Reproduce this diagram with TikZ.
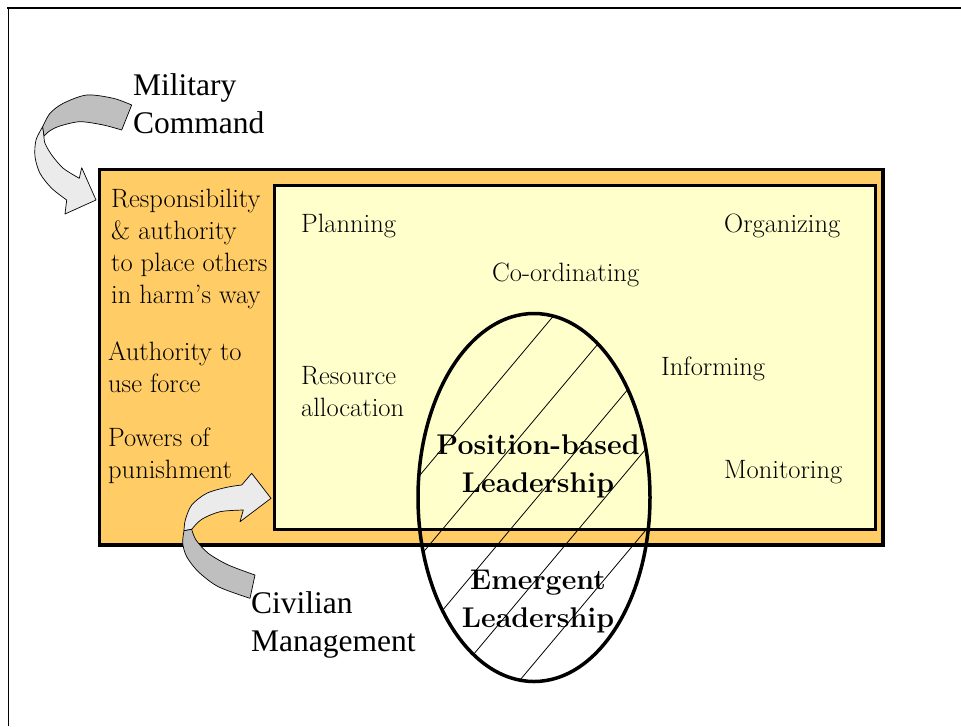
\documentclass[tikz,border=0pt]{standalone}
\usepackage{fontspec}
\newfontfamily\timesfont{Liberation Serif}
\usetikzlibrary{shapes.geometric}
\definecolor{cmdorange}{HTML}{FFCC66}
\definecolor{mgmtyellow}{HTML}{FFFFCC}
\definecolor{ribbondark}{HTML}{BFBFBF}
\definecolor{ribbonlight}{HTML}{EBEBEB}
\begin{document}
\begin{tikzpicture}[x=1pt,y=-1pt,
	txt/.style={anchor=north west,inner sep=0,align=left,font=\fontsize{26.5}{32}\selectfont},
	side/.style={anchor=north west,inner sep=0,align=left,font=\timesfont\fontsize{31.5}{38}\selectfont},
	lead/.style={anchor=north,inner sep=0,align=center,font=\bfseries\fontsize{28.5}{38}\selectfont},
	ribbon/.style={draw=black,line width=.7pt,line join=round}]
	\useasboundingbox (0,0) rectangle (961,726);
	% page frame
	\draw[line width=1pt] (8,726)--(8,8);
	\draw[line width=2pt] (7,8)--(961,8);
	% command box and management box
	\filldraw[fill=cmdorange,line width=3.5pt] (99.5,169.5) rectangle (883,545);
	\filldraw[fill=mgmtyellow,line width=3.5pt] (274.7,185.3) rectangle (875.3,529.5);
	% hatched leadership ellipse
	\begin{scope}
		\clip (534,497.5) ellipse [x radius=116, y radius=184];
		\foreach \hx in {368,436,504,572,640}
			\draw[line width=.8pt] (\hx-250,537+298)--(\hx+250,537-298);
	\end{scope}
	\node[draw,ellipse,line width=3.5pt,minimum width=232,minimum height=368,inner sep=0] (ldr) at (534,497.5) {};
	% military command arrow
	\filldraw[ribbon,fill=ribbonlight] plot[smooth] coordinates {(42.7,126.7) (36,140) (35,156.7) (40,173.3) (51.7,188.3) (66.7,200)}
		-- (65,214) -- (96,200) -- (81.7,167.7)
		-- plot[smooth] coordinates {(79.3,178.3) (63.3,168.3) (51.7,155) (45,143.3) (44,136)} -- cycle;
	\filldraw[ribbon,fill=ribbondark] plot[smooth] coordinates {(131.7,105) (113.3,98.3) (86.7,95) (63.3,103.3) (50,113.3) (42.7,126.7)}
		-- (44,136)
		-- plot[smooth] coordinates {(44,136) (50,130.7) (60,126) (80,121.7) (103.3,125) (121.7,130)} -- cycle;
	% civilian management arrow
	\filldraw[ribbon,fill=ribbonlight] plot[smooth] coordinates {(184,530.7) (185.3,520) (191.7,505) (206.7,493.3) (226.7,487.3) (241.7,485)}
		-- (251.7,473.3) -- (271,498.3) -- (240,521.7)
		-- plot[smooth] coordinates {(243.3,510) (220,511.7) (201.7,519.3) (191.7,529.3)} -- cycle;
	\filldraw[ribbon,fill=ribbondark] plot[smooth] coordinates {(184,530.7) (182.7,543.3) (186.7,556.7) (198.3,571.7) (218.3,586.7) (250,598.3)}
		-- (255,575)
		-- plot[smooth] coordinates {(255,575) (228.3,565) (208.3,553.3) (196,540) (191.7,529.3)} -- cycle;
	% labels
	\node[side] (mil) at (133,73.5) {Military\\Command};
	\node[side] (civ) at (251,591.5) {Civilian\\Management};
	\node[txt] (resp) at (111,188.5) {Responsibility\\\& authority\\to place others\\in harm’s way};
	\node[txt] (force) at (108,341.5) {Authority to\\use force};
	\node[txt] (punish) at (108,427.5) {Powers of\\punishment};
	\node[txt] (plan) at (301,213.5) {Planning};
	\node[txt] (coord) at (492,262.5) {Co-ordinating};
	\node[txt] (res) at (301,366) {Resource\\allocation};
	\node[txt] (org) at (724,213.5) {Organizing};
	\node[txt] (inf) at (661,356.5) {Informing};
	\node[txt] (mon) at (724,460) {Monitoring};
	\node[lead] (pos) at (538,434.5) {Position-based\\Leadership};
	\node[lead] (emg) at (538,569.5) {Emergent\\Leadership};
\end{tikzpicture}
\end{document}
